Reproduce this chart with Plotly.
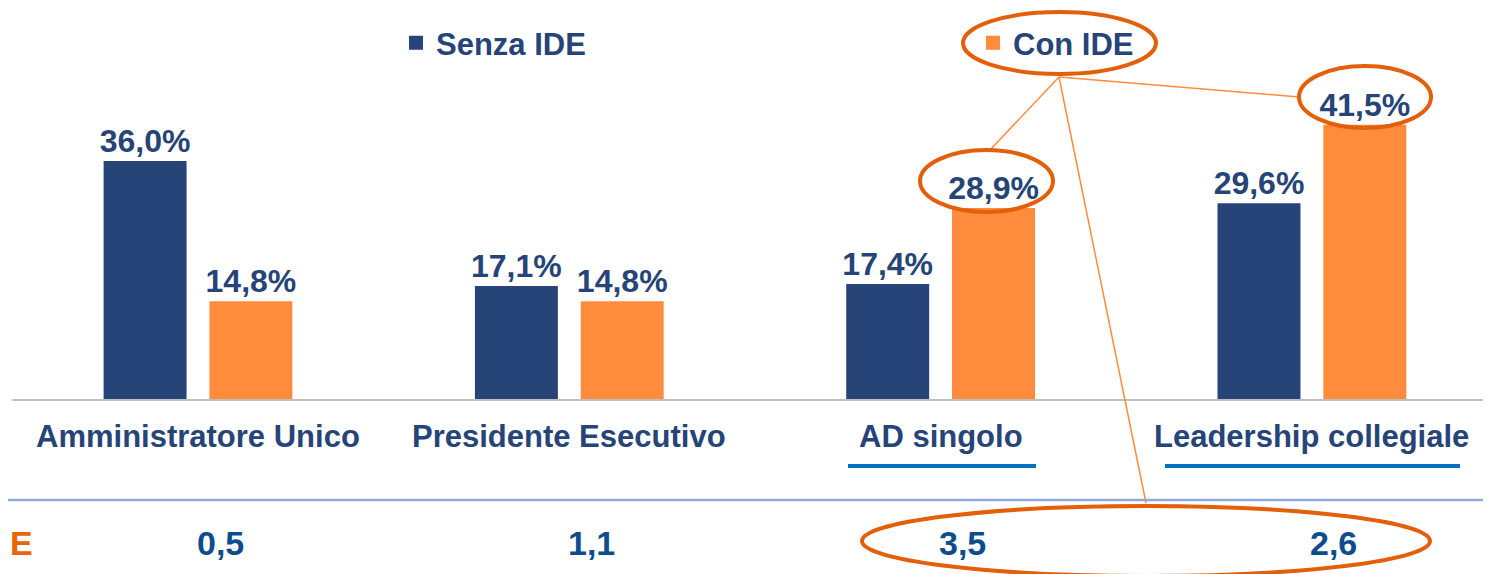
import plotly.graph_objects as go

W, H = 1491, 574
OFF = 8  # body margin of the html page
FW, FH = W - OFF, H - OFF

categories = ['Amministratore Unico', 'Presidente Esecutivo', 'AD singolo', 'Leadership collegiale']
senza_ide = [36.0, 17.1, 17.4, 29.6]
con_ide = [14.8, 14.8, 28.9, 41.5]
ide_ratio = [0.5, 1.1, 3.5, 2.6]
series_names = ['Senza IDE', 'Con IDE']

NAVY = '#264478'
ORANGE = '#FF8B3D'
RED_OR = '#E35F0A'
LINE_OR = '#FF8B3D'
TXT_BLUE = '#0D4D8E'
FONT = 'Liberation Sans, Arial, sans-serif'


def px(x, y):
    """screen pixel -> paper coordinates"""
    return (x - OFF) / FW, 1 - (y - OFF) / FH


def pct(v):
    return f'{v:.1f}%'.replace('.', ',')


fig = go.Figure()
legends = ['legend', 'legend2']
for name, vals, col, lg in zip(series_names, [senza_ide, con_ide], [NAVY, ORANGE], legends):
    fig.add_trace(go.Bar(
        name=name, x=categories, y=vals, marker_color=col,
        marker_line=dict(width=2, color=col),
        text=[pct(v) for v in vals], textposition='outside', cliponaxis=False,
        constraintext='none', legend=lg,
        textfont=dict(family=FONT, size=32, color=NAVY, weight='bold'),
    ))

# px per unit: baseline at 400px, 36% -> 162px
scale = (400 - 162) / 36.0
y_top = (400 - OFF) / scale
y_bot = -(H - 400) / scale
step = 371.3
c0 = 198 - OFF
x_left = -c0 / step
x_right = (FW - c0) / step

shapes = []
# baseline axis
shapes.append(dict(type='line', xref='x', yref='y', x0=-0.5, x1=x_right, y0=0, y1=0,
                   line=dict(color='#BFBFBF', width=2)))
# light blue separator
shapes.append(dict(type='line', xref='paper', yref='paper', x0=0, x1=1,
                   y0=px(0, 500)[1], y1=px(0, 500)[1], line=dict(color='#8FAADC', width=2.5)))
# underlines
for (a, b) in [(848, 1036), (1165, 1460)]:
    shapes.append(dict(type='line', xref='paper', yref='paper', x0=px(a, 0)[0], x1=px(b, 0)[0],
                       y0=px(0, 466)[1], y1=px(0, 466)[1], line=dict(color='#0070C0', width=4)))
# connector lines
for (ex, ey) in [(990, 150), (1299, 97), (1146, 503)]:
    x0, y0 = px(1059, 77)
    x1, y1 = px(ex, ey)
    shapes.append(dict(type='line', xref='paper', yref='paper', x0=x0, y0=y0, x1=x1, y1=y1,
                       line=dict(color=LINE_OR, width=1.5)))
# ovals
for (a, t, b, bt) in [(963, 12, 1156, 74), (1299, 66, 1431, 128), (920, 150, 1053, 212),
                      (862, 506, 1430, 576)]:
    x0, y0 = px(a, bt)
    x1, y1 = px(b, t)
    shapes.append(dict(type='circle', xref='paper', yref='paper', x0=x0, y0=y0, x1=x1, y1=y1,
                       line=dict(color=RED_OR, width=4), layer='above'))

annotations = []
for c in categories:
    annotations.append(dict(x=c, xref='x', y=px(0, 437)[1], yref='paper', yanchor='middle',
                            text=c, showarrow=False,
                            font=dict(family=FONT, size=31, color=NAVY, weight='bold')))
for c, v in zip(categories, ide_ratio):
    annotations.append(dict(x=c, xref='x', y=px(0, 543)[1], yref='paper', yanchor='middle',
                            xanchor='center', xshift=22,
                            text=f'{v:.1f}'.replace('.', ','), showarrow=False,
                            font=dict(family=FONT, size=34, color=TXT_BLUE, weight='bold')))
annotations.append(dict(x=0, xref='paper', y=px(0, 543)[1], yref='paper', xanchor='left',
                        yanchor='middle', text='E', showarrow=False,
                        font=dict(family=FONT, size=34, color='#E8650A', weight='bold')))

leg_common = dict(orientation='h', yanchor='middle', xanchor='left', bgcolor='rgba(0,0,0,0)',
                  font=dict(family=FONT, size=31, color=NAVY, weight='bold'))
fig.update_layout(
    width=FW, height=FH,
    margin=dict(l=0, r=0, t=0, b=0, autoexpand=False),
    paper_bgcolor='white', plot_bgcolor='white',
    barmode='group', bargap=0.43, bargroupgap=0.235,
    xaxis=dict(range=[x_left, x_right], showticklabels=False, showgrid=False,
               zeroline=False, showline=False, ticks=''),
    yaxis=dict(range=[y_bot, y_top], visible=False),
    showlegend=True,
    legend=dict(x=px(396, 0)[0], y=px(0, 43)[1], **leg_common),
    legend2=dict(x=px(973, 0)[0], y=px(0, 43)[1], **leg_common),
    shapes=shapes,
    annotations=annotations,
)

fig.write_html('out.html')
